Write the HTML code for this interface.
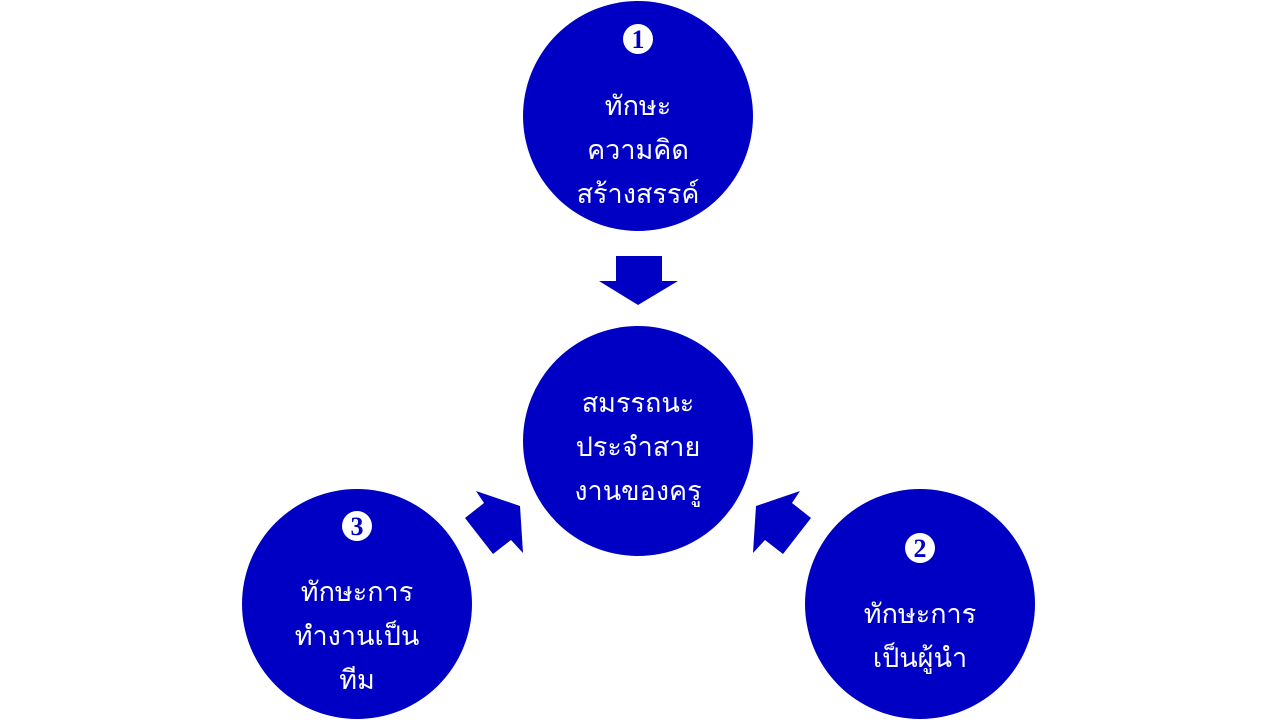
<!DOCTYPE html>
<html><head><meta charset="utf-8"><style>
html,body{margin:0;padding:0;background:#fff;width:1280px;height:720px;overflow:hidden}
.c{position:absolute;width:230px;height:230px;border-radius:50%;background:#0000c4;color:#fff;
font-family:"Liberation Sans","DejaVu Sans","Noto Sans CJK SC",sans-serif;font-size:27px;line-height:44px;text-align:center}
.t{position:absolute;left:0;right:0}
.b{position:absolute;width:30px;height:30px;border-radius:50%;background:#fff;color:#0000c4;left:100px;
font-family:"Liberation Serif",serif;font-size:26px;line-height:31px;text-align:center;font-weight:bold}
</style></head><body>
<svg width="1280" height="720" style="position:absolute;left:0;top:0">
<polygon fill="#0000c4" points="616,256 662,256 662,281 678,281 638,305 599,281 616,281"/>
<polygon fill="#0000c4" points="476,491 484,503 465,518 493,554 511,540 523,553 520,506"/>
<polygon fill="#0000c4" points="800,491 792,503 811,518 783,554 765,540 753,553 756,506"/>
</svg>
<div class="c" style="left:523px;top:1px"><div class="b" style="top:23px">1</div><div class="t" style="top:83px">ทักษะ<br>ความคิด<br>สร้างสรรค์</div></div>
<div class="c" style="left:523px;top:326px"><div class="t" style="top:55px">สมรรถนะ<br>ประจำสาย<br>งานของครู</div></div>
<div class="c" style="left:242px;top:489px"><div class="b" style="top:22px">3</div><div class="t" style="top:81px">ทักษะการ<br>ทำงานเป็น<br>ทีม</div></div>
<div class="c" style="left:805px;top:489px"><div class="b" style="top:44px">2</div><div class="t" style="top:103px">ทักษะการ<br>เป็นผู้นำ</div></div>
</body></html>
